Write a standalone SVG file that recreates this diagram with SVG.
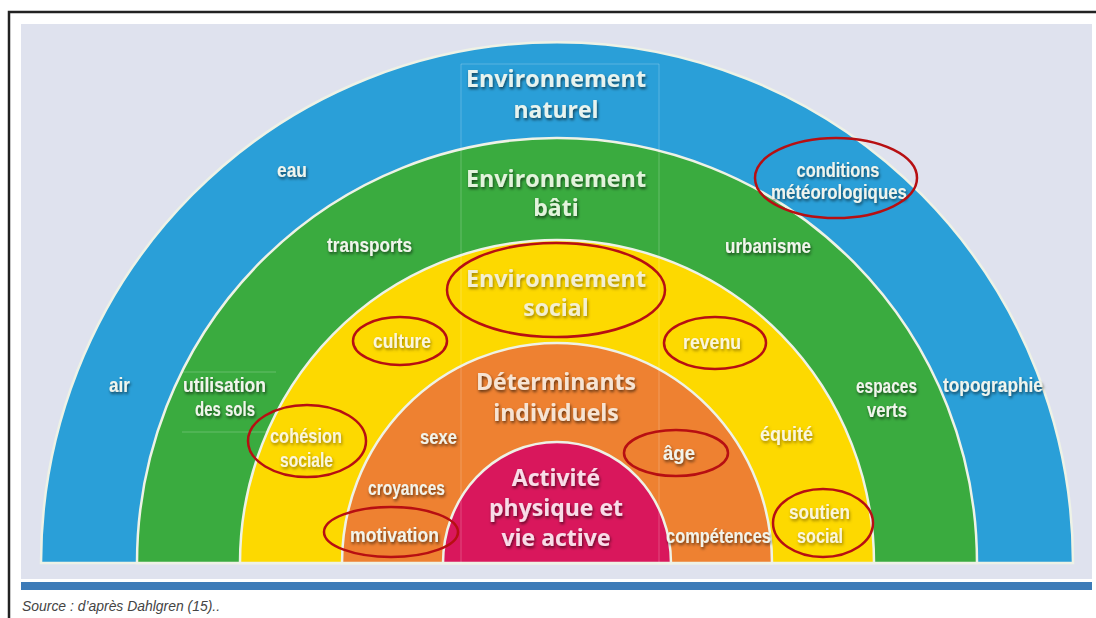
<svg xmlns="http://www.w3.org/2000/svg" width="1096" height="618" viewBox="0 0 1096 618">
  <defs>
    <filter id="sh" x="-20%" y="-40%" width="140%" height="180%">
      <feDropShadow dx="1" dy="2" stdDeviation="1.5" flood-color="#000" flood-opacity="0.6"/>
    </filter>
    <filter id="sh2" x="-20%" y="-40%" width="140%" height="180%">
      <feDropShadow dx="1" dy="2" stdDeviation="1.7" flood-color="#6b5200" flood-opacity="0.65"/>
    </filter>
  </defs>
  <style>
    .ring { stroke: #eef2e6; stroke-width: 2.5; }
    .title { font-family: "Open Sans", "Noto Sans", sans-serif; font-weight: bold; font-size: 23px; text-anchor: middle; filter: url(#sh); }
    .lab { font-family: "Liberation Sans", Arial, sans-serif; font-weight: bold; font-size: 21px; text-anchor: middle; fill: #f1f4ec; filter: url(#sh); }
    .laby { fill: #fbf6dc; filter: url(#sh2); }
    .mark { fill: none; stroke: #b70f12; stroke-width: 2.5; }
    .faint { stroke: #ffffff; stroke-opacity: 0.22; stroke-width: 1; fill: none; }
  </style>

  <rect x="0" y="0" width="1096" height="618" fill="#ffffff"/>
  <path d="M9 618 V12 H1096" fill="none" stroke="#222" stroke-width="2.5"/>
  <rect x="21" y="24" width="1071" height="555" fill="#dfe2ee"/>
  <rect x="21" y="582" width="1071" height="8" fill="#3d7bb8"/>

  <g id="ring-naturel">
    <path class="ring" fill="#2a9fd8" d="M41 563 A516 521 0 0 1 1073 563 Z"/>
  </g>
  <g id="ring-bati">
    <path class="ring" fill="#3aab3f" d="M137 563 A420 425 0 0 1 977 563 Z"/>
  </g>
  <g id="ring-social">
    <path class="ring" fill="#fdd900" d="M240 563 A317 323 0 0 1 874 563 Z"/>
  </g>
  <g id="ring-individuels">
    <path class="ring" fill="#ee8131" d="M342 563 A215 220 0 0 1 772 563 Z"/>
  </g>
  <g id="ring-activite">
    <path class="ring" fill="#d9175c" d="M443 563 A114 121 0 0 1 671 563 Z"/>
  </g>

  <g id="faint-lines">
    <path class="faint" d="M461 64 V562 M659 64 V562 M461 64 H659 M182 372 H276 M182 432 H268"/>
  </g>

  <g id="titles">
    <text class="title" x="556" y="87" fill="#e8f3ee" textLength="180" lengthAdjust="spacingAndGlyphs">Environnement</text>
    <text class="title" x="556" y="118" fill="#e8f3ee">naturel</text>
    <text class="title" x="556" y="187" fill="#e3f3dc" textLength="180" lengthAdjust="spacingAndGlyphs">Environnement</text>
    <text class="title" x="556" y="216" fill="#e3f3dc">bâti</text>
    <text class="title" x="556" y="287" fill="#f3efd2" style="filter:url(#sh2)" textLength="180" lengthAdjust="spacingAndGlyphs">Environnement</text>
    <text class="title" x="556" y="316" fill="#f3efd2" style="filter:url(#sh2)">social</text>
    <text class="title" x="556" y="390" fill="#f6e4d4" font-size="22" textLength="160" lengthAdjust="spacingAndGlyphs">Déterminants</text>
    <text class="title" x="556" y="421" fill="#f6e4d4" font-size="22">individuels</text>
    <text class="title" x="556" y="486" fill="#f8dde8">Activité</text>
    <text class="title" x="556" y="516" fill="#f8dde8" textLength="134" lengthAdjust="spacingAndGlyphs">physique et</text>
    <text class="title" x="556" y="546" fill="#f8dde8">vie active</text>
  </g>

  <g id="labels-naturel">
    <text class="lab" x="292" y="177" textLength="30" lengthAdjust="spacingAndGlyphs">eau</text>
    <text class="lab" x="838" y="177" textLength="83" lengthAdjust="spacingAndGlyphs">conditions</text>
    <text class="lab" x="839" y="199" textLength="136" lengthAdjust="spacingAndGlyphs">météorologiques</text>
    <text class="lab" x="119.5" y="392" textLength="21" lengthAdjust="spacingAndGlyphs">air</text>
    <text class="lab" x="993" y="392" textLength="100" lengthAdjust="spacingAndGlyphs">topographie</text>
  </g>
  <g id="labels-bati">
    <text class="lab" x="369.5" y="252" textLength="85" lengthAdjust="spacingAndGlyphs">transports</text>
    <text class="lab" x="768" y="253" textLength="86" lengthAdjust="spacingAndGlyphs">urbanisme</text>
    <text class="lab" x="224.5" y="392" textLength="83" lengthAdjust="spacingAndGlyphs">utilisation</text>
    <text class="lab" x="225" y="416" textLength="60" lengthAdjust="spacingAndGlyphs">des sols</text>
    <text class="lab" x="886.5" y="393" textLength="61" lengthAdjust="spacingAndGlyphs">espaces</text>
    <text class="lab" x="887" y="417" textLength="40" lengthAdjust="spacingAndGlyphs">verts</text>
  </g>
  <g id="labels-social">
    <text class="lab laby" x="402" y="348" textLength="58" lengthAdjust="spacingAndGlyphs">culture</text>
    <text class="lab laby" x="712" y="349" textLength="58" lengthAdjust="spacingAndGlyphs">revenu</text>
    <text class="lab laby" x="306" y="443" textLength="72" lengthAdjust="spacingAndGlyphs">cohésion</text>
    <text class="lab laby" x="306.5" y="467" textLength="53" lengthAdjust="spacingAndGlyphs">sociale</text>
    <text class="lab laby" x="786.5" y="441" textLength="53" lengthAdjust="spacingAndGlyphs">équité</text>
    <text class="lab laby" x="819.5" y="519" textLength="61" lengthAdjust="spacingAndGlyphs">soutien</text>
    <text class="lab laby" x="820" y="543" textLength="46" lengthAdjust="spacingAndGlyphs">social</text>
  </g>
  <g id="labels-individuels">
    <text class="lab" x="438.5" y="444" textLength="37" lengthAdjust="spacingAndGlyphs">sexe</text>
    <text class="lab" x="679" y="460" textLength="32" lengthAdjust="spacingAndGlyphs">âge</text>
    <text class="lab" x="406.5" y="495" textLength="77" lengthAdjust="spacingAndGlyphs">croyances</text>
    <text class="lab" x="394.5" y="542" textLength="89" lengthAdjust="spacingAndGlyphs">motivation</text>
    <text class="lab" x="718.5" y="543" textLength="105" lengthAdjust="spacingAndGlyphs">compétences</text>
  </g>

  <g id="connectors">
    <ellipse class="mark" cx="836" cy="178" rx="81" ry="40"/>
    <ellipse class="mark" cx="556" cy="290" rx="109" ry="47"/>
    <ellipse class="mark" cx="400" cy="341" rx="47" ry="24"/>
    <ellipse class="mark" cx="715" cy="343" rx="51" ry="26"/>
    <ellipse class="mark" cx="307" cy="441" rx="59" ry="36"/>
    <ellipse class="mark" cx="676" cy="453" rx="52" ry="23"/>
    <ellipse class="mark" cx="391" cy="532" rx="67" ry="25"/>
    <ellipse class="mark" cx="823" cy="523" rx="50" ry="34"/>
  </g>

  <text x="22" y="611" font-family="Liberation Sans, Arial, sans-serif" font-style="italic" font-size="14" fill="#444" textLength="198" lengthAdjust="spacingAndGlyphs">Source : d’après Dahlgren (15)..</text>
</svg>
